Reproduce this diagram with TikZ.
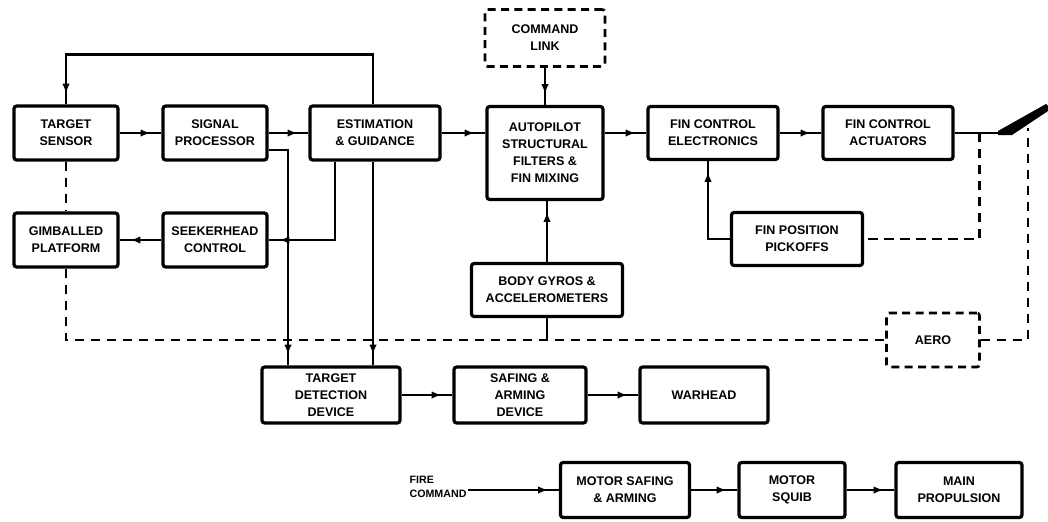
\documentclass[tikz,border=0pt]{standalone}
\usepackage{fontspec}
\setmainfont{Liberation Sans}
\usetikzlibrary{arrows.meta,decorations.markings}
\tikzset{
  box/.style={draw, line width=2.4pt, rounded corners=2pt, align=center, inner sep=1pt,
    font=\bfseries\fontsize{9.4}{12.8}\selectfont},
  dbox/.style={box, line width=2pt, dash pattern=on 6pt off 4pt},
  conn/.style={line width=1.7pt},
  arr/.style={conn, postaction={decorate},
    decoration={markings, mark=at position -8pt with {\arrow{Latex[length=7.5pt,width=5.5pt]}}}},
  dline/.style={line width=1.7pt, dash pattern=on 7pt off 5pt},
  lbl/.style={align=left, inner sep=1pt, font=\bfseries\fontsize{8}{10.5}\selectfont},
}
\begin{document}
\begin{tikzpicture}[x=0.75pt,y=-0.75pt]
\useasboundingbox[fill=white] (0,0) rectangle (1048,521);

% top row
\node[box, minimum width=78pt, minimum height=40.5pt] (ts) at (66,133) {TARGET\\SENSOR};
\node[box, minimum width=78pt, minimum height=40.5pt] (sp) at (215,133) {SIGNAL\\PROCESSOR};
\node[box, minimum width=97.5pt, minimum height=40.5pt] (eg) at (375,133) {ESTIMATION\\\& GUIDANCE};
\node[box, minimum width=78pt, minimum height=40.5pt] (gp) at (66,240) {GIMBALLED\\PLATFORM};
\node[box, minimum width=78pt, minimum height=40.5pt] (sc) at (215,240) {SEEKERHEAD\\CONTROL};
\node[dbox, minimum width=90pt, minimum height=42.75pt] (cl) at (545,38) {COMMAND\\LINK};
\node[box, minimum width=87pt, minimum height=69.75pt] (ap) at (545,153) {AUTOPILOT\\STRUCTURAL\\FILTERS \&\\FIN MIXING};
\node[box, minimum width=97.5pt, minimum height=39.75pt] (fce) at (713,133) {FIN CONTROL\\ELECTRONICS};
\node[box, minimum width=97.5pt, minimum height=39.75pt] (fca) at (888,133) {FIN CONTROL\\ACTUATORS};
\node[box, minimum width=98.25pt, minimum height=39.75pt] (fpp) at (797,239) {FIN POSITION\\PICKOFFS};
\node[box, minimum width=113.25pt, minimum height=39.75pt] (bg) at (547,290) {BODY GYROS \&\\ACCELEROMETERS};
\node[dbox, minimum width=69.75pt, minimum height=40.5pt] (aero) at (933,340) {AERO};

% lower rows
\node[box, minimum width=103.5pt, minimum height=42pt] (tdd) at (331,395) {TARGET\\DETECTION\\DEVICE};
\node[box, minimum width=99pt, minimum height=42pt] (sad) at (520,395) {SAFING \&\\ARMING\\DEVICE};
\node[box, minimum width=96pt, minimum height=42pt] (wh) at (704,395) {WARHEAD};
\node[box, minimum width=96.75pt, minimum height=41.25pt] (msa) at (625,490) {MOTOR SAFING\\\& ARMING};
\node[box, minimum width=79.5pt, minimum height=41.25pt] (ms) at (792,490) {MOTOR\\SQUIB};
\node[box, minimum width=94.5pt, minimum height=41.25pt] (mp) at (959,490) {MAIN\\PROPULSION};
\node[lbl, anchor=west] (fc) at (408,487) {FIRE\\COMMAND};

\coordinate (t373) at ([xshift=31.5pt]tdd.north);
\coordinate (t288) at ([xshift=-32.25pt]tdd.north);
\coordinate (finpt) at (1028,128);

% main signal chain
\draw[arr] (ts.east) -- (sp.west);
\draw[arr] (sp.east) -- (eg.west);
\draw[arr] (eg.east) -- (eg.east -| ap.west);
\draw[arr] (ap.east |- fce.west) -- (fce.west);
\draw[arr] (fce.east) -- (fca.west);

% feedback to target sensor
\draw[arr] ([xshift=-1.5pt]eg.north) -- ++(0,-50) -| (ts.north);
\draw[dline] (ts.south) -- (gp.north);
\draw[arr] (sc.west) -- (gp.east);
\draw[arr] ([xshift=-30pt]eg.south) |- (sc.east);
\draw[arr] ([yshift=-12.75pt]sp.east) -| (t288);
\draw[arr] (t373 |- eg.south) -- (t373);

% autopilot inputs
\draw[arr] (cl.south) -- (ap.north);
\draw[arr] (bg.north) -- (bg.north |- ap.south);

% fin loop
\draw[arr] (fpp.west) -| ([xshift=-3.75pt]fce.south);
\draw[conn] (fca.east) -- (1000,133);
\fill (998,131) -- (1046,104) -- (1048,106) -- (1048,111) -- (1012,135) -- (998,135) -- cycle;
\draw[dline] ([xshift=18.75pt]fca.east) |- (fpp.east);

% aero loop
\draw[dline] (gp.south) |- (aero.west);
\draw[dline] (aero.east) -| (finpt);
\draw[conn] (bg.south) -- ++(0,23);

% lower chains
\draw[arr] (tdd.east) -- (sad.west);
\draw[arr] (sad.east) -- (wh.west);
\draw[arr] (fc.east |- msa.west) -- (msa.west);
\draw[arr] (msa.east) -- (ms.west);
\draw[arr] (ms.east) -- (mp.west);
\end{tikzpicture}
\end{document}
